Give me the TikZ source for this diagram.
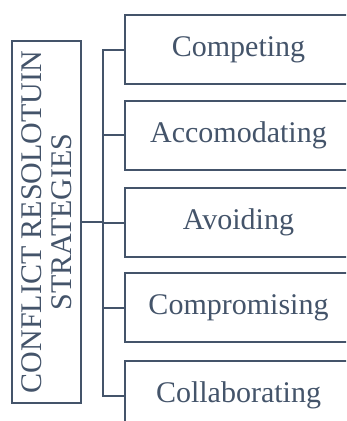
\documentclass[tikz,border=0pt]{standalone}
\usepackage{fontspec}
\setmainfont{Liberation Serif}
\usepackage{tikz}
\usetikzlibrary{positioning}
\usepackage{xcolor}
\definecolor{slate}{HTML}{44546A}

\begin{document}
\begin{tikzpicture}[x=1pt, y=-1pt,
		stratbox/.style={draw=slate, line width=2pt, text=slate, minimum width=227pt, minimum height=69pt, inner sep=0pt, font=\fontsize{30}{30}\selectfont},
		titlebox/.style={draw=slate, line width=2pt, text=slate, rotate=90, minimum width=362pt, minimum height=69pt, inner sep=0pt, align=center, font=\fontsize{30}{30}\selectfont},
		link/.style={draw=slate, line width=2pt}]
			    		\useasboundingbox (0,0) rectangle (346,421);
			    		\clip (0,0) rectangle (346,421);
			    		\node[titlebox] (title) at (46.5, 222) {CONFLICT RESOLOTUIN\\STRATEGIES};
			    		\node[stratbox] (competing) at (238.5, 49.5) {Competing};
			    		\node[stratbox] (accomodating) at (238.5, 135) {Accomodating};
			    		\node[stratbox] (avoiding) at (238.5, 222.5) {Avoiding};
			    		\node[stratbox] (compromising) at (238.5, 307.5) {Compromising};
			    		\node[stratbox] (collaborating) at (238.5, 395.5) {Collaborating};
			    		\coordinate (spine) at (103, 222);
			    		\draw[link, line width=2.8pt] (title.south) -- (spine);
			    		\draw[link] (competing.west) -| (spine) |- (collaborating.west);
			    		\draw[link] (spine |- accomodating.west) -- (accomodating.west);
			    		\draw[link] (spine |- avoiding.west) -- (avoiding.west);
			    		\draw[link] (spine |- compromising.west) -- (compromising.west);
			    	\end{tikzpicture}
\end{document}
